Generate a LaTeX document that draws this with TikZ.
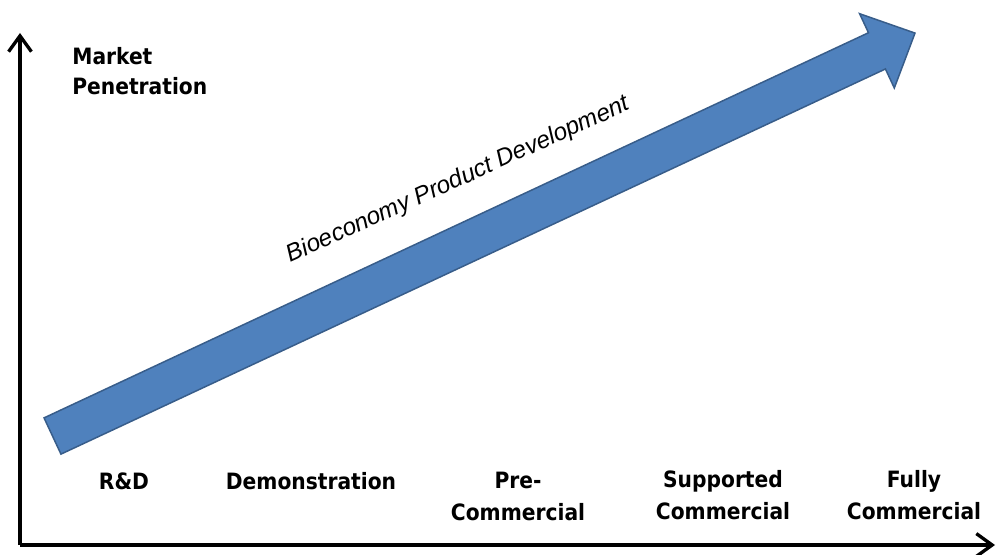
\documentclass[tikz,border=0pt]{standalone}
\usepackage{fontspec}
\setmainfont{Liberation Sans}
\newfontfamily\stagefont{DejaVu Sans Condensed}[BoldFont={DejaVu Sans Condensed Bold}]
\usetikzlibrary{arrows.meta}

\begin{document}
\begin{tikzpicture}[
axisline/.style={line width=1.9pt, -{Straight Barb[length=9pt,width=13pt]}},
stagelabel/.style={anchor=north, inner sep=0pt, align=center, font=\stagefont\bfseries\fontsize{12.8}{18}\selectfont},
bigarrow/.style={line width=0.85pt, draw=arrowedge, fill=arrowblue, line join=miter}]

\definecolor{arrowblue}{HTML}{4F81BD}
\definecolor{arrowedge}{HTML}{385D8A}

\useasboundingbox (0,0) rectangle (19.92,11.08);

% Axes
\coordinate (origin) at (0.4,0.18);
\coordinate (ytop) at (0.4,10.42);
\coordinate (xend) at (19.9,0.18);
\draw[axisline] (origin) -- (ytop);
\draw[axisline] (origin) -- (xend);

\node[anchor=north west, inner sep=0pt, align=left, font=\stagefont\bfseries\fontsize{12.8}{17}\selectfont] (market) at (1.44,10.14) {Market\\Penetration};

% Arrow
\begin{scope}[shift={(1.05,2.36)}, rotate=25.04]
\draw[bigarrow] (0,-0.4) -- (18.2,-0.4) -- (18.2,-0.82) -- (19.04,0) -- (18.2,0.82) -- (18.2,0.4) -- (0,0.4) -- cycle;
\end{scope}

\node[anchor=base, inner sep=0pt, rotate=24.3, font=\itshape\fontsize{13.8}{16}\selectfont] (bioeco) at (9.22,7.36) {Bioeconomy Product Development};

% Stages
\node[stagelabel] (rd) at (2.48,1.64) {R\&D};
\node[stagelabel] (demo) at (6.22,1.64) {Demonstration};
\node[stagelabel] (precom) at (10.36,1.64) {Pre-\\Commercial};
\node[stagelabel] (supcom) at (14.46,1.68) {Supported\\Commercial};
\node[stagelabel] (fullcom) at (18.28,1.68) {Fully\\Commercial};

\end{tikzpicture}
\end{document}
